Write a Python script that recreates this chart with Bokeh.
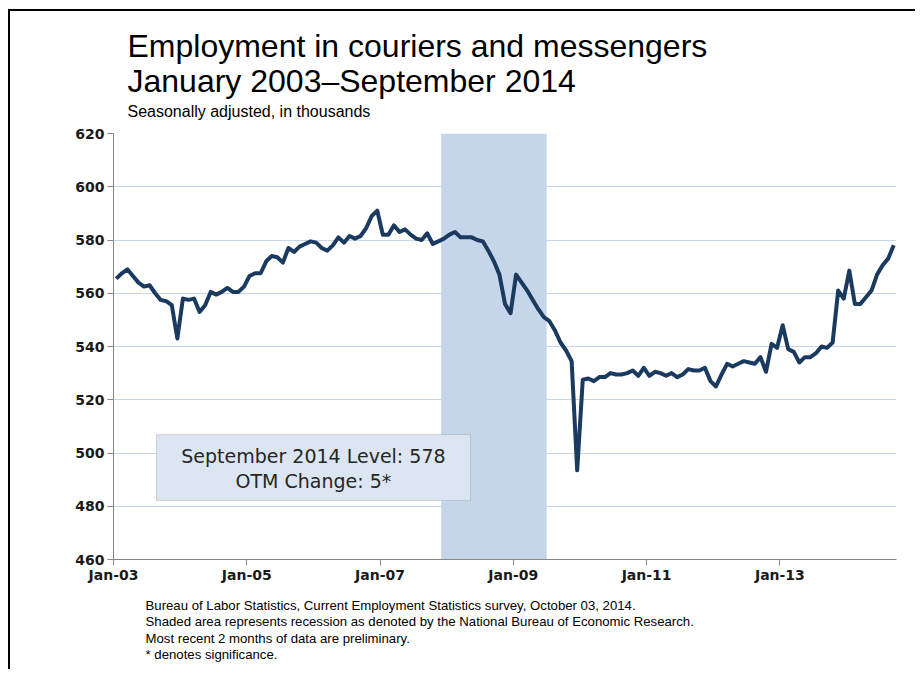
from bokeh.plotting import figure
from bokeh.models import Range1d, BoxAnnotation, Label, FixedTicker
from bokeh.layouts import column
from bokeh.core.properties import value
from bokeh.embed import file_html
from bokeh.resources import INLINE

# ---- data (thousands, seasonally adjusted), Jan 2003 .. Sep 2014 ----
v2003 = [565.5, 567.5, 569, 566.5, 564, 562.5, 563, 560, 557.5, 557, 555.5, 543]
v2004 = [558, 557.5, 558, 553, 555.5, 560.5, 559.5, 560.5, 562, 560.5, 560.5, 562.5]
v2005 = [566.5, 567.5, 567.5, 572, 574, 573.5, 571.5, 577, 575.5, 577.5, 578.5, 579.5]
v2006 = [579, 577, 576, 578, 581, 579, 581.5, 580.5, 581.5, 584.5, 589, 591]
v2007 = [582, 582, 585.5, 583, 584, 582, 580.5, 580, 582.5, 578.5, 579.5, 580.5]
v2008 = [582, 583, 581, 581, 581, 580, 579.5, 576, 572, 567, 556, 552.5]
v2009 = [567, 564, 561, 557.5, 554, 551, 549.5, 546, 541.5, 538.5, 534.5, 493.5]
v2010 = [527.5, 528, 527, 528.5, 528.5, 530, 529.5, 529.5, 530, 531, 529, 532]
v2011 = [529, 530.5, 530, 529, 530, 528.5, 529.5, 531.5, 531, 531, 532, 527]
v2012 = [525, 529.5, 533.5, 532.5, 533.5, 534.5, 534, 533.5, 536, 530.5, 541, 539.5]
v2013 = [548, 539, 538, 534, 536, 536, 537.5, 540, 539.5, 541.5, 561, 558]
v2014 = [568.5, 556, 556, 558.5, 561, 567, 570.5, 573, 578]

x_tick_labels = ["Jan-03", "Jan-05", "Jan-07", "Jan-09", "Jan-11", "Jan-13"]
x_tick_months = [0, 24, 48, 72, 96, 120]          # months since Jan 2003
y_ticks = [460, 480, 500, 520, 540, 560, 580, 600, 620]
recession_months = [59, 77]                         # Dec 2007 .. Jun 2009

title_lines = ["Employment in couriers and messengers", "January 2003\u2013September 2014"]
subtitle = "Seasonally adjusted, in thousands"
level_text = "September 2014 Level: 578"
change_text = "OTM Change: 5*"
notes = ["Bureau of Labor Statistics, Current Employment Statistics survey, October 03, 2014.",
         "Shaded area represents recession as denoted by the National Bureau of Economic Research.",
         "Most recent 2 months of data are preliminary.",
         "* denotes significance."]

values = v2003 + v2004 + v2005 + v2006 + v2007 + v2008 + v2009 + v2010 + v2011 + v2012 + v2013 + v2014
months = [i + 0.5 for i in range(len(values))]    # points centred in each month category
n_months = len(values)

W = 905
FRAME_L, FRAME_R = 113, 896      # page x of the chart frame (text panels share it in the column)


def text_panel(height, top_px):
    # panel whose data coordinates equal page pixels
    f = figure(width=W, height=height, x_range=Range1d(FRAME_L, FRAME_R),
               y_range=Range1d(top_px + height, top_px),
               output_backend="svg", toolbar_location=None, x_axis_type=None, y_axis_type=None,
               min_border=0, min_border_left=0, min_border_right=0, min_border_top=0, min_border_bottom=0)
    f.outline_line_color = None
    f.grid.visible = False
    f.background_fill_color = "white"
    f.border_fill_color = "white"
    return f


FONT = "Liberation Sans"

# ---- top text panel ----
top = text_panel(112, 11)
top.text(x=[127], y=[45.5], text=[title_lines[0]], text_font=value(FONT),
         text_font_size="32px", text_color="#000000", text_baseline="middle")
top.text(x=[127], y=[80.5], text=[title_lines[1]], text_font=value(FONT),
         text_font_size="32px", text_color="#000000", text_baseline="middle")
top.text(x=[127], y=[110.5], text=[subtitle], text_font=value(FONT),
         text_font_size="16px", text_color="#000000", text_baseline="middle")

# ---- main chart ----
p = figure(width=W, height=476, x_range=Range1d(0, n_months), y_range=Range1d(460, 620),
           output_backend="svg", toolbar_location=None,
           min_border_left=103, min_border_right=19, min_border_top=10, min_border_bottom=40)
p.outline_line_color = None
p.background_fill_color = "white"
p.border_fill_color = "white"

p.add_layout(BoxAnnotation(left=recession_months[0], right=recession_months[1] + 1,
                           fill_color="#c6d6ea", fill_alpha=1.0, line_color=None, level="image"))

p.xgrid.visible = False
p.ygrid.ticker = FixedTicker(ticks=y_ticks)
p.ygrid.grid_line_color = "#c8d6ea"
p.ygrid.grid_line_width = 1

for ax in (p.xaxis[0], p.yaxis[0]):
    ax.axis_line_color = "#868686"
    ax.major_tick_line_color = "#868686"
    ax.minor_tick_line_color = None
    ax.major_tick_in = 0
    ax.major_tick_out = 6
    ax.major_label_text_font = "DejaVu Sans"
    ax.major_label_text_font_style = "bold"
    ax.major_label_text_font_size = "14px"
    ax.major_label_text_color = "#1a1a1a"
    ax.major_label_standoff = 3
p.xaxis.major_label_standoff = 1

p.yaxis.ticker = FixedTicker(ticks=y_ticks)
p.xaxis.ticker = FixedTicker(ticks=x_tick_months)
p.xaxis.major_label_overrides = {m: lab for m, lab in zip(x_tick_months, x_tick_labels)}

p.line(months, values, line_color="#1b3a60", line_width=4, line_join="round")

p.add_layout(BoxAnnotation(left=7.75, right=64.3, top=506.9, bottom=482.2,
                           fill_color="#dce6f2", fill_alpha=1.0,
                           line_color="#808080", line_width=1, level="annotation"))
p.add_layout(Label(x=36.0, y=499.0, text=level_text, text_align="center", text_baseline="middle",
                   text_font="DejaVu Sans", text_font_size="19px", text_color="#262626"))
p.add_layout(Label(x=36.0, y=489.3, text=change_text, text_align="center", text_baseline="middle",
                   text_font="DejaVu Sans", text_font_size="19px", text_color="#262626"))

# ---- bottom text panel ----
bottom = text_panel(70, 599)
note_y = [604.5, 621, 637.5, 653.5]
for t, yy in zip(notes, note_y):
    bottom.text(x=[145], y=[yy], text=[t], text_font=value(FONT),
                text_font_size="13.2px", text_color="#000000", text_baseline="middle")

layout = column(top, p, bottom, spacing=0,
                styles={"border-left": "2px solid #000", "border-top": "2px solid #000",
                        "margin-left": "8px", "margin-top": "9px"})

open("out.html", "w").write(file_html(layout, INLINE))
